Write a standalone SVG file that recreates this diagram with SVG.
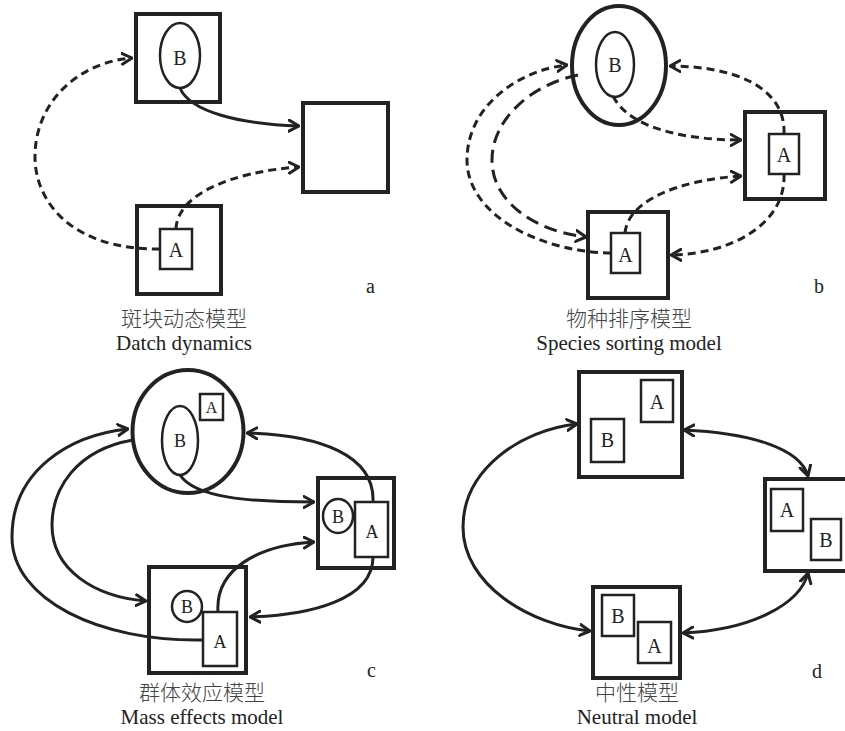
<svg xmlns="http://www.w3.org/2000/svg" width="845" height="731" viewBox="0 0 845 731">
  <defs>
    <style>
      .patch { fill: none; stroke: #222; stroke-width: 4; }
      .sp { fill: #fff; stroke: #222; stroke-width: 2.5; }
      .lbl { font-family: "Liberation Serif", "Times New Roman", serif; font-size: 20px; fill: #222; text-anchor: middle; }
      .lbl.sm { font-size: 18px; }
      .lbl.xs { font-size: 16px; }
      .tag { font-family: "Liberation Serif", serif; font-size: 20px; fill: #222; }
      .cap-zh { font-family: "Liberation Serif", "Noto Sans CJK SC", serif; font-size: 21px; fill: #444; text-anchor: middle; font-weight: 300; }
      .cap-en { font-family: "Liberation Serif", "Times New Roman", serif; font-size: 21px; fill: #222; text-anchor: middle; }
      .flow { fill: none; stroke: #222; stroke-width: 3; marker-end: url(#arr); }
      .flow.dash { stroke-dasharray: 8 5; }
      .flow.long { stroke-dasharray: 13 7; }
      .flow.both { marker-start: url(#arr); }
    </style>
    <marker id="arr" viewBox="0 0 12 14" refX="11" refY="7" markerWidth="12" markerHeight="14" markerUnits="userSpaceOnUse" orient="auto-start-reverse">
      <path d="M1,1.5 L11,7 L1,12.5" fill="none" stroke="#222" stroke-width="3" stroke-linecap="round" stroke-linejoin="round"/>
    </marker>
  </defs>

  <!-- Panel a: patch dynamics -->
  <g id="a-patch-top">
    <rect class="patch" x="136" y="14" width="84" height="88"/>
    <ellipse cx="180" cy="55.5" rx="20" ry="32.5" fill="none" stroke="#222" stroke-width="2.5"/>
    <text class="lbl" x="180" y="65">B</text>
  </g>
  <g id="a-patch-right">
    <rect class="patch" x="303" y="103" width="85" height="89"/>
  </g>
  <g id="a-patch-bottom">
    <rect class="patch" x="137" y="206" width="84" height="88"/>
    <rect class="sp" x="160" y="229" width="32" height="40"/>
    <text class="lbl" x="176" y="257">A</text>
  </g>
  <g id="a-caption">
    <text class="tag" x="366" y="293">a</text>
    <text class="cap-zh" x="184" y="326">斑块动态模型</text>
    <text class="cap-en" x="184" y="350">Datch dynamics</text>
  </g>

  <!-- Panel b: species sorting -->
  <g id="b-patch-top">
    <ellipse class="patch" cx="619" cy="65.5" rx="47" ry="59.5"/>
    <ellipse cx="615" cy="64.5" rx="19" ry="32.5" fill="none" stroke="#222" stroke-width="2.5"/>
    <text class="lbl" x="615" y="72">B</text>
  </g>
  <g id="b-patch-right">
    <rect class="patch" x="745" y="112" width="80" height="87"/>
    <rect class="sp" x="769" y="134" width="30" height="40"/>
    <text class="lbl" x="784" y="162">A</text>
  </g>
  <g id="b-patch-bottom">
    <rect class="patch" x="588" y="212" width="80" height="86"/>
    <rect class="sp" x="611" y="233" width="29" height="40"/>
    <text class="lbl" x="625.5" y="262">A</text>
  </g>
  <g id="b-caption">
    <text class="tag" x="814" y="293">b</text>
    <text class="cap-zh" x="629" y="326">物种排序模型</text>
    <text class="cap-en" x="629" y="350">Species sorting model</text>
  </g>

  <!-- Panel c: mass effects -->
  <g id="c-patch-top">
    <ellipse class="patch" cx="188" cy="431.5" rx="55.5" ry="61.5"/>
    <rect class="sp" x="200" y="394" width="23" height="26"/>
    <text class="lbl xs" x="211.5" y="413">A</text>
    <ellipse cx="180" cy="440.5" rx="18" ry="34.5" fill="none" stroke="#222" stroke-width="2.5"/>
    <text class="lbl sm" x="180" y="447">B</text>
  </g>
  <g id="c-patch-right">
    <rect class="patch" x="318" y="478" width="76" height="90"/>
    <ellipse cx="338" cy="516" rx="15" ry="17" fill="none" stroke="#222" stroke-width="2.5"/>
    <text class="lbl sm" x="338" y="523">B</text>
    <rect class="sp" x="355" y="502" width="33" height="55"/>
    <text class="lbl sm" x="372" y="538">A</text>
  </g>
  <g id="c-patch-bottom">
    <rect class="patch" x="149" y="567" width="97" height="106"/>
    <ellipse cx="187" cy="606.5" rx="15" ry="15.5" fill="none" stroke="#222" stroke-width="2.5"/>
    <text class="lbl sm" x="187" y="613">B</text>
    <rect class="sp" x="203" y="612" width="34" height="54"/>
    <text class="lbl sm" x="220" y="648">A</text>
  </g>
  <g id="c-caption">
    <text class="tag" x="367" y="677">c</text>
    <text class="cap-zh" x="202" y="700">群体效应模型</text>
    <text class="cap-en" x="202" y="724">Mass effects model</text>
  </g>

  <!-- Panel d: neutral -->
  <g id="d-patch-top">
    <rect class="patch" x="579" y="372" width="103" height="105"/>
    <rect class="sp" x="641" y="380" width="32" height="42"/>
    <text class="lbl" x="657" y="409">A</text>
    <rect class="sp" x="591" y="419" width="33" height="43"/>
    <text class="lbl" x="607.5" y="447">B</text>
  </g>
  <g id="d-patch-right">
    <rect class="patch" x="765" y="479" width="100" height="92"/>
    <rect class="sp" x="771" y="489" width="32" height="42"/>
    <text class="lbl" x="787" y="517">A</text>
    <rect class="sp" x="811" y="519" width="30" height="41"/>
    <text class="lbl" x="826" y="547">B</text>
  </g>
  <g id="d-patch-bottom">
    <rect class="patch" x="593" y="587" width="87" height="91"/>
    <rect class="sp" x="602" y="595" width="32" height="41"/>
    <text class="lbl" x="618" y="623">B</text>
    <rect class="sp" x="638" y="622" width="33" height="41"/>
    <text class="lbl" x="654.5" y="653">A</text>
  </g>
  <g id="d-caption">
    <text class="tag" x="812" y="678">d</text>
    <text class="cap-zh" x="637" y="700">中性模型</text>
    <text class="cap-en" x="637" y="724">Neutral model</text>
  </g>

  <!-- Dispersal connectors -->
  <g id="connectors">
    <!-- a -->
    <path class="flow" d="M180,88 C190,112 240,124 299,126"/>
    <path class="flow dash" d="M160,249 C70,250 34,200 35,155 C36,100 80,62 132,58"/>
    <path class="flow dash" d="M176,229 C177,195 230,172 299,167"/>
    <!-- b -->
    <path class="flow dash" d="M613,96 C630,130 690,140 741,140"/>
    <path class="flow dash" d="M784,134 C786,85 730,66 670,66"/>
    <path class="flow dash" d="M784,174 C786,225 730,254 671,255"/>
    <path class="flow dash" d="M625,233 C628,200 680,180 741,176"/>
    <path class="flow dash" d="M611,253 C540,252 467,215 467,160 C467,105 520,70 567,65"/>
    <path class="flow long" d="M578,75 C530,85 492,120 492,160 C492,205 540,232 586,237"/>
    <!-- c -->
    <path class="flow" d="M180,475 C195,498 250,502 314,502"/>
    <path class="flow" d="M373,502 C375,455 320,435 247,433"/>
    <path class="flow" d="M373,557 C373,600 310,615 250,617"/>
    <path class="flow" d="M218,612 C215,568 260,545 314,542"/>
    <path class="flow" d="M203,640 C100,642 12,600 12,537 C12,470 70,435 128,429"/>
    <path class="flow" d="M133,440 C75,450 52,490 52,525 C52,570 95,597 146,601"/>
    <!-- d -->
    <path class="flow both" d="M577,424 C520,430 463,470 463,527 C463,585 530,625 590,631"/>
    <path class="flow both" d="M684,430 C750,433 800,448 808,476"/>
    <path class="flow both" d="M683,633 C750,630 800,605 808,573"/>
  </g>
</svg>
